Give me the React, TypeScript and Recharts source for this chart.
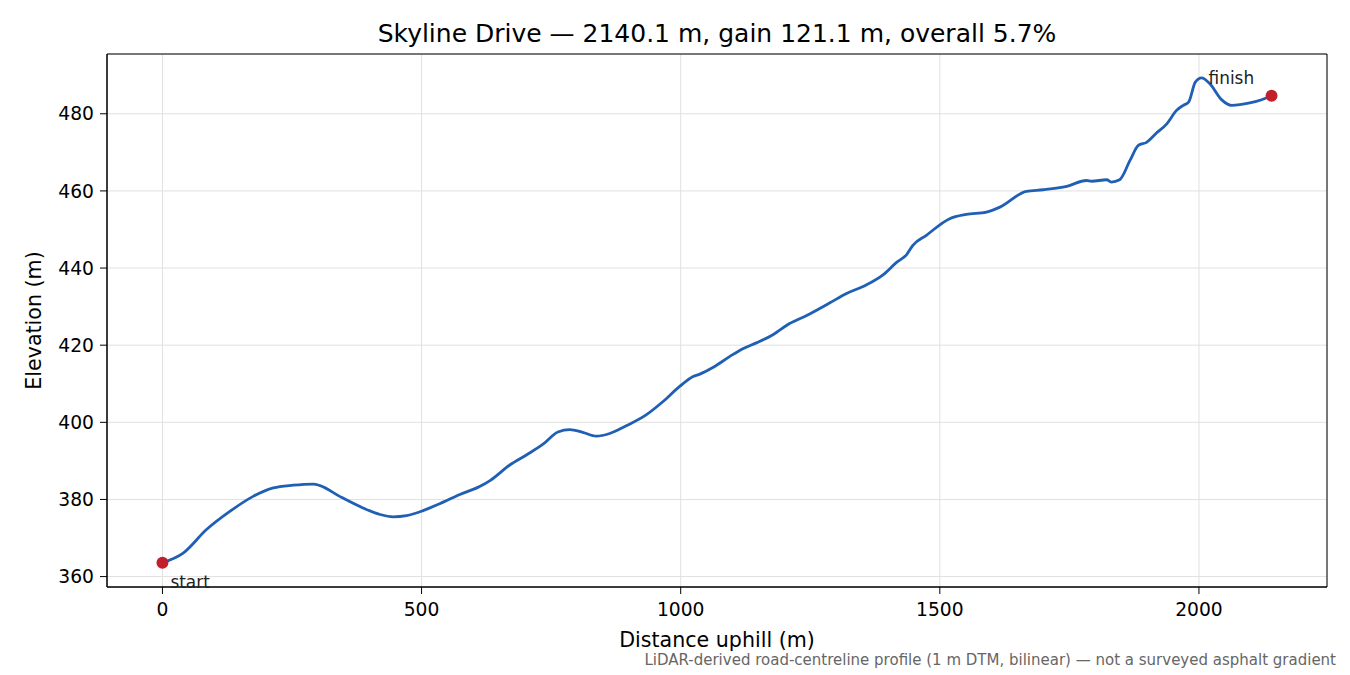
import React from "react";
import {
  LineChart,
  Line,
  XAxis,
  YAxis,
  CartesianGrid,
  ReferenceDot,
  ReferenceArea,
  Label,
} from "recharts";

const distance = [
  0, 40, 85, 130, 175, 214, 252, 291, 304, 342, 387, 420, 445, 471, 503, 535,
  574, 613, 632, 671, 703, 735, 763, 786, 811, 837, 863, 895, 934, 966, 998,
  1024, 1037, 1062, 1095, 1120, 1146, 1178, 1210, 1243, 1288, 1320, 1358, 1391,
  1416, 1436, 1448, 1474, 1519, 1551, 1590, 1616, 1667, 1699, 1745, 1783, 1793,
  1822, 1831, 1847, 1867, 1883, 1899, 1918, 1938, 1957, 1970, 1980, 1993, 2005,
  2021, 2044, 2063, 2098, 2118, 2140.1,
];

const elevation = [
  363.6, 366.1, 372.2, 376.9, 380.8, 383.0, 383.7, 384.0, 383.6, 380.8, 377.8,
  376.1, 375.5, 375.8, 377.1, 378.9, 381.3, 383.4, 384.9, 389.0, 391.6, 394.4,
  397.5, 398.1, 397.4, 396.4, 397.1, 399.1, 402.0, 405.4, 409.3, 411.9, 412.5,
  414.2, 417.1, 419.1, 420.6, 422.7, 425.6, 427.7, 431.0, 433.4, 435.6, 438.3,
  441.4, 443.5, 445.9, 448.5, 452.8, 453.9, 454.5, 455.8, 459.9, 460.3, 461.2,
  462.7, 462.5, 462.9, 462.3, 462.9, 467.9, 471.8, 472.6, 475.0, 477.4, 480.9,
  482.2, 483.0, 488.2, 489.3, 487.8, 483.6, 482.2, 482.8, 483.5, 484.7,
];

const xTicks = [0, 500, 1000, 1500, 2000];
const yTicks = [360, 380, 400, 420, 440, 460, 480];

const profile = distance.map((d, i) => ({ d, elev: elevation[i] }));
const first = profile[0];
const last = profile[profile.length - 1];

const FONT = "DejaVu Sans, sans-serif";
const X_DOMAIN: [number, number] = [-107, 2247.1];
const Y_DOMAIN: [number, number] = [357.3, 495.5];

export default function App() {
  return (
    <div
      style={{
        position: "absolute",
        left: 0,
        top: 0,
        width: 1350,
        height: 675,
        background: "#fff",
        fontFamily: FONT,
      }}
    >
      <div
        style={{
          position: "absolute",
          left: 107,
          width: 1220,
          top: 19,
          textAlign: "center",
          fontSize: 25,
          lineHeight: "30px",
          color: "#000",
        }}
      >
        Skyline Drive — 2140.1 m, gain 121.1 m, overall 5.7%
      </div>
      <LineChart
        width={1350}
        height={675}
        data={profile}
        margin={{ top: 54, right: 23, bottom: 58, left: 47 }}
        style={{ fontFamily: FONT }}
      >
        <CartesianGrid stroke="#e0e0e0" strokeWidth={1} />
        <XAxis
          dataKey="d"
          type="number"
          domain={X_DOMAIN}
          ticks={xTicks}
          height={30}
          stroke="#000"
          tick={{ fill: "#000", fontSize: 18.7 }}
          tickSize={7}
          tickMargin={9}
        >
          <Label
            value="Distance uphill (m)"
            position="bottom"
            offset={15}
            style={{ fill: "#000", fontSize: 20.6 }}
          />
        </XAxis>
        <YAxis
          dataKey="elev"
          type="number"
          domain={Y_DOMAIN}
          ticks={yTicks}
          width={60}
          stroke="#000"
          tick={{ fill: "#000", fontSize: 18.7 }}
          tickSize={7}
          tickMargin={6}
        >
          <Label
            value="Elevation (m)"
            angle={-90}
            position="insideLeft"
            offset={-13}
            style={{ fill: "#000", fontSize: 20.6, textAnchor: "middle" }}
          />
        </YAxis>
        <ReferenceArea
          x1={X_DOMAIN[0]}
          x2={X_DOMAIN[1]}
          y1={Y_DOMAIN[0]}
          y2={Y_DOMAIN[1]}
          fill="none"
          stroke="#000"
          strokeWidth={1}
          ifOverflow="visible"
        />
        <Line
          type="monotone"
          dataKey="elev"
          stroke="#1f5fb4"
          strokeWidth={2.8}
          dot={false}
          isAnimationActive={false}
        />
        <ReferenceDot
          x={first.d}
          y={first.elev}
          r={6}
          fill="#c1202b"
          stroke="none"
          label={(props: any) => {
            const vb = props.viewBox;
            const cx = vb.x + vb.width / 2;
            const cy = vb.y + vb.height / 2;
            return (
              <text x={cx + 8} y={cy + 25} fontSize={16.9} fill="#222" fontFamily={FONT}>
                start
              </text>
            );
          }}
        />
        <ReferenceDot
          x={last.d}
          y={last.elev}
          r={6}
          fill="#c1202b"
          stroke="none"
          label={(props: any) => {
            const vb = props.viewBox;
            const cx = vb.x + vb.width / 2;
            const cy = vb.y + vb.height / 2;
            return (
              <text x={cx - 63} y={cy - 12} fontSize={16.9} fill="#222" fontFamily={FONT}>
                finish
              </text>
            );
          }}
        />
      </LineChart>
      <div
        style={{
          position: "absolute",
          right: 14,
          top: 651,
          fontSize: 15,
          lineHeight: "18px",
          color: "#666",
        }}
      >
        LiDAR-derived road-centreline profile (1 m DTM, bilinear) — not a surveyed asphalt gradient
      </div>
    </div>
  );
}
